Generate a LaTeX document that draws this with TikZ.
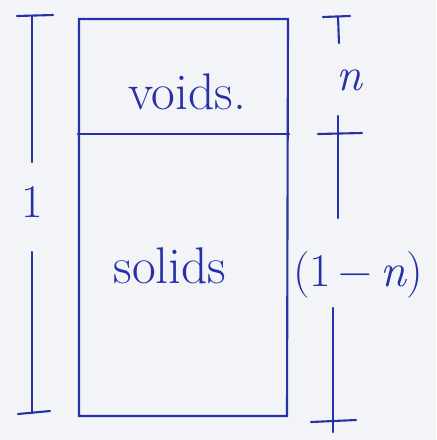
\documentclass[tikz,border=0pt]{standalone}
\usepackage{tikz}
\usepackage{xcolor}
\usetikzlibrary{positioning,calc}
\definecolor{InkBlue}{RGB}{38,48,168}
\definecolor{PaperWhite}{RGB}{242,244,248}
\tikzset{
  ink/.style={draw=InkBlue,line width=1.8pt,line cap=round},
  lbl/.style={text=InkBlue,font=\fontsize{44}{48}\selectfont,inner sep=0pt},
  dim/.style={text=InkBlue,font=\fontsize{40}{44}\selectfont,inner sep=0pt},
}
\begin{document}
\begin{tikzpicture}[x=0.03cm,y=-0.03cm]
    % Background
    \fill[PaperWhite] (0,0) rectangle (436,440);
    \useasboundingbox (0,0) rectangle (436,440);

    % Column
    \coordinate (tl) at (79,19);
    \coordinate (tr) at (288,19);
    \coordinate (bl) at (79,416);
    \coordinate (br) at (287,416);
    \coordinate (ml) at (78,134);
    \coordinate (mr) at (289,134);
    \draw[ink] (tl) -- (tr) -- (br) -- (bl) -- cycle;
    \draw[ink] (ml) -- (mr);

    % Labels inside
    \node[lbl] (voids) at (187,92) {voids.};
    \node[lbl] (solids) at (170,266) {solids};

    % Left dimension
    \node[dim] (one) at (32,202) {1};
    \coordinate (lt) at (32,16);
    \coordinate (lb) at (32,413);
    \draw[ink] (17,16) -- (53,15);
    \draw[ink] (18,414) -- (50,411);
    \draw[ink] (lt) -- (32,162);
    \draw[ink] (32,252) -- (lb);

    % Right dimension
    \node[dim] (n) at (349,80) {\itshape n};
    \node[dim] (onen) at (358,275) {(1\,−\,\itshape n\upshape)};
    \draw[ink] (323,17) -- (350,16);
    \draw[ink] (338,17) -- (339,43);
    \draw[ink] (318,134) -- (362,133);
    \draw[ink] (338,116) -- (338,218);
    \draw[ink] (333,308) -- (333,432);
    \draw[ink] (311,422) -- (356,420);
\end{tikzpicture}
\end{document}
